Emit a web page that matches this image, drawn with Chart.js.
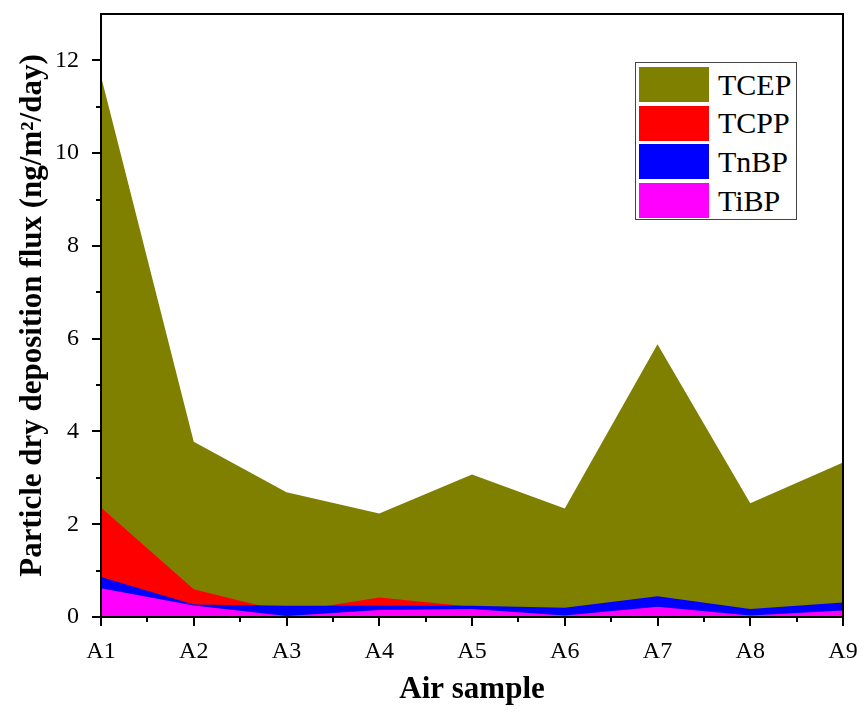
<!DOCTYPE html>
<html>
<head>
<meta charset="utf-8">
<script src="https://cdn.jsdelivr.net/npm/chart.js@4"></script>
<style>
  body { margin: 0; background: #fff; }
  #wrap { position: relative; width: 864px; height: 713px; }
  #legend {
    position: absolute; left: 635px; top: 62px; width: 160px; height: 156px;
    border: 1.5px solid #444; background: #fff;
    font-family: 'Liberation Serif', 'Times New Roman', serif; font-size: 30px; color: #000;
  }
  .row { position: absolute; left: 3px; height: 35px; display: flex; align-items: center; }
  .sw { width: 70px; height: 35px; margin-right: 9px; }
</style>
</head>
<body>
<div id="wrap">
  <canvas id="myChart" width="864" height="713"></canvas>
  <div id="legend"></div>
</div>
<script>
// air samples and fluxes (ng/m2/day)
const samples = ['A1', 'A2', 'A3', 'A4', 'A5', 'A6', 'A7', 'A8', 'A9'];
const tcep = [11.66, 3.78, 2.69, 2.23, 3.07, 2.34, 5.88, 2.45, 3.33];
const tcpp = [2.36, 0.60, 0.10, 0.42, 0.22, 0.10, 0.30, 0.10, 0.20];
const tnbp = [0.86, 0.27, 0.24, 0.24, 0.24, 0.20, 0.45, 0.17, 0.31];
const tibp = [0.62, 0.25, 0.02, 0.15, 0.17, 0.03, 0.22, 0.03, 0.14];
const seriesNames = ['TCEP', 'TCPP', 'TnBP', 'TiBP'];
const seriesColors = ['#808000', '#ff0000', '#0000ff', '#ff00ff'];
const yTicks = [0, 2, 4, 6, 8, 10, 12];

const serif = "'Liberation Serif', 'Times New Roman', serif";
const allSeries = [tcep, tcpp, tnbp, tibp];

// draws the frame plus major/minor outward ticks like the Origin plot
const axisTicks = {
  id: 'axisTicks',
  afterDraw(chart) {
    const {ctx, chartArea: a, scales: {x, y}} = chart;
    ctx.save();
    ctx.strokeStyle = '#000';
    ctx.lineWidth = 2;
    ctx.strokeRect(a.left, a.top, a.right - a.left, a.bottom - a.top);
    ctx.beginPath();
    for (let v = 0; v <= 12; v++) {
      const py = Math.round(y.getPixelForValue(v));
      const len = v % 2 === 0 ? 9 : 5;
      ctx.moveTo(a.left - len, py);
      ctx.lineTo(a.left, py);
    }
    for (let i = 0; i < samples.length; i++) {
      const px = Math.round(x.getPixelForValue(i));
      ctx.moveTo(px, a.bottom);
      ctx.lineTo(px, a.bottom + 9);
      if (i < samples.length - 1) {
        const mx = Math.round((x.getPixelForValue(i) + x.getPixelForValue(i + 1)) / 2);
        ctx.moveTo(mx, a.bottom);
        ctx.lineTo(mx, a.bottom + 5);
      }
    }
    ctx.stroke();
    ctx.restore();
  }
};

const ctx = document.getElementById('myChart');
new Chart(ctx, {
  type: 'line',
  data: {
    labels: samples,
    datasets: seriesNames.map((name, i) => ({
      label: name,
      data: allSeries[i],
      backgroundColor: seriesColors[i],
      borderColor: seriesColors[i],
      borderWidth: 0,
      pointRadius: 0,
      tension: 0,
      fill: 'origin',
      order: seriesNames.length - i
    }))
  },
  options: {
    responsive: false,
    animation: false,
    layout: { padding: { top: 14, right: 21, left: 0, bottom: 0 } },
    plugins: {
      legend: { display: false },
      tooltip: { enabled: false }
    },
    scales: {
      x: {
        offset: false,
        grid: { display: false },
        border: { display: false },
        ticks: { color: '#000', padding: 12, maxRotation: 0, font: { family: serif, size: 24 } },
        title: {
          display: true, text: 'Air sample', color: '#000',
          font: { family: serif, size: 31, weight: 'bold' },
          padding: { top: 0, bottom: 4 }
        },
        afterFit(s) { s.height = 96; s.paddingLeft = 0; s.paddingRight = 0; }
      },
      y: {
        min: 0,
        max: 13,
        grid: { display: false },
        border: { display: false },
        afterBuildTicks(s) { s.ticks = yTicks.map(v => ({ value: v })); },
        ticks: { color: '#000', padding: 14, font: { family: serif, size: 24 } },
        title: {
          display: true, text: 'Particle dry deposition flux (ng/m\u00b2/day)', color: '#000',
          font: { family: serif, size: 31, weight: 'bold' },
          padding: { top: 14, bottom: 0 }
        },
        afterFit(s) { s.width = 101; s.paddingTop = 0; s.paddingBottom = 0; }
      }
    }
  },
  plugins: [axisTicks]
});

// legend box drawn as html, same colours as the datasets
const legend = document.getElementById('legend');
seriesNames.forEach((name, i) => {
  const row = document.createElement('div');
  row.className = 'row';
  row.style.top = (4 + i * 38.7) + 'px';
  row.innerHTML = '<div class="sw" style="background:' + seriesColors[i] + '"></div><span>' + name + '</span>';
  legend.appendChild(row);
});
</script>
</body>
</html>
